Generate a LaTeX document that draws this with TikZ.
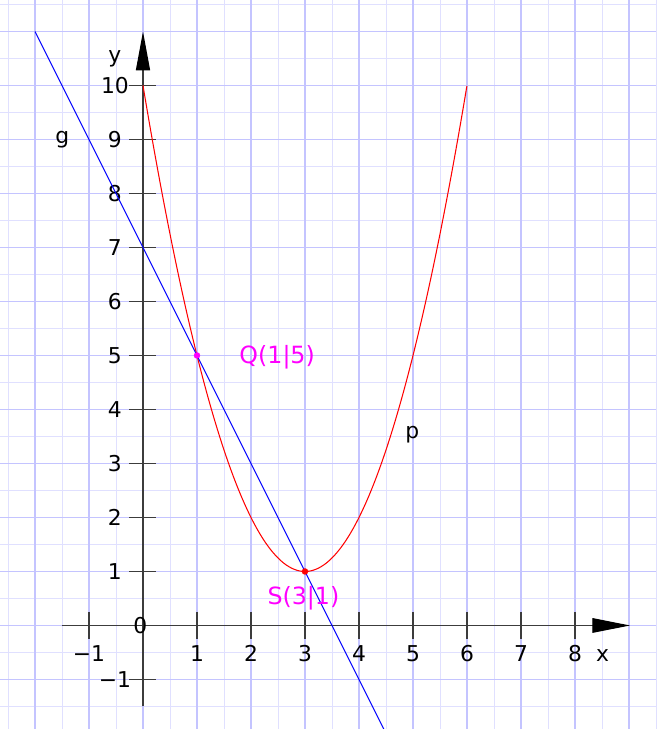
\documentclass[tikz,border=0pt]{standalone}
\usepackage{fontspec}
\setmainfont{DejaVu Sans}
\usetikzlibrary{arrows.meta}
\definecolor{gmaj}{RGB}{196,196,255}
\definecolor{gmin}{RGB}{224,224,255}
\definecolor{axc}{HTML}{3C3C3C}
\definecolor{ptmag}{HTML}{FF00FF}
\begin{document}
\begin{tikzpicture}[x=1cm,y=1cm,
  font=\fontsize{11.5}{13}\selectfont,
  minorgrid/.style={draw=gmin, line width=0.5pt},
  majorgrid/.style={fill=gmaj},
  axisline/.style={axc, line width=0.7pt},
  tickline/.style={axc, line width=0.7pt},
  ticklabel/.style={inner sep=0pt, text=black},
  curvelabel/.style={inner sep=0pt, anchor=base west, text=black},
  ptlabel/.style={inner sep=0pt, anchor=base west, text=ptmag, font=\fontsize{12.5}{14}\selectfont},
  dot/.style={circle, inner sep=0pt, minimum size=0.12cm}]
\useasboundingbox (-2.648,-1.917) rectangle (9.667,11.583);
\fill[white] (-2.648,-1.917) rectangle (9.667,11.583);
% grid
\foreach \gx in {-2.5,-1.5,...,9.5} \draw[minorgrid] (\gx,-1.917) -- (\gx,11.583);
\foreach \gy in {-1.5,-0.5,...,11.5} \draw[minorgrid] (-2.648,\gy) -- (9.5,\gy);
\foreach \gx in {-2,...,9} \fill[majorgrid] ([xshift=-0.3pt]\gx,-1.917) rectangle ([xshift=0.3pt]\gx,11.583);
\foreach \gy in {-1,...,11} \fill[majorgrid] ([yshift=-0.3pt]-2.648,\gy) rectangle ([yshift=0.3pt]9.5,\gy);
% axes
\coordinate (xs) at (-1.5,0);
\coordinate (xe) at (9.02,0);
\coordinate (ys) at (0,-1.5);
\coordinate (ye) at (0,11.0);
\draw[axisline, -{Triangle[length=0.7cm,width=0.27cm,color=black]}] (xs) -- (xe);
\draw[axisline, -{Triangle[length=0.72cm,width=0.26cm,color=black]}] (ys) -- (ye);
% ticks
\foreach \t in {-1,1,2,3,4,5,6,7,8} {
  \coordinate (xta\t) at (\t,0.25);
  \coordinate (xtb\t) at (\t,-0.25);
  \draw[tickline] (xta\t) -- (xtb\t);
}
\foreach \t in {-1,1,2,3,4,5,6,7,8,9,10} {
  \coordinate (yta\t) at (-0.25,\t);
  \coordinate (ytb\t) at (0.25,\t);
  \draw[tickline] (yta\t) -- (ytb\t);
}
% tick labels
\foreach \t in {1,...,8} \node[ticklabel, anchor=base] (xl\t) at (\t,-0.66) {\t};
\node[ticklabel, anchor=base] (xlm1) at (-1,-0.66) {−1};
\foreach \t in {1,...,10} \node[ticklabel] (yl\t) at (-0.52,\t) {\t};
\node[ticklabel] (ylm1) at (-0.52,-1) {−1};
\node[ticklabel] (zero) at (-0.05,0) {0};
\node[ticklabel, anchor=base] (xname) at (8.51,-0.66) {x};
\node[ticklabel, anchor=base] (yname) at (-0.52,10.42) {y};
% curves
\draw[red, line width=0.55pt] plot[domain=0:6, samples=121, smooth] (\x,{(\x-3)^2+1});
\coordinate (g1) at (-2,11);
\coordinate (g2) at (4.46,-1.92);
\draw[blue, line width=0.55pt] (g1) -- (g2);
% points
\node[dot, fill=ptmag] (Q) at (1,5) {};
\node[dot, fill=red] (S) at (3,1) {};
% labels
\node[ptlabel] (Qlab) at (1.78,4.86) {Q(1|5)};
\node[ptlabel] (Slab) at (2.3,0.38) {S(3|1)};
\node[curvelabel] (plab) at (4.85,3.47) {p};
\node[curvelabel] (glab) at (-1.63,8.92) {g};
\end{tikzpicture}
\end{document}
